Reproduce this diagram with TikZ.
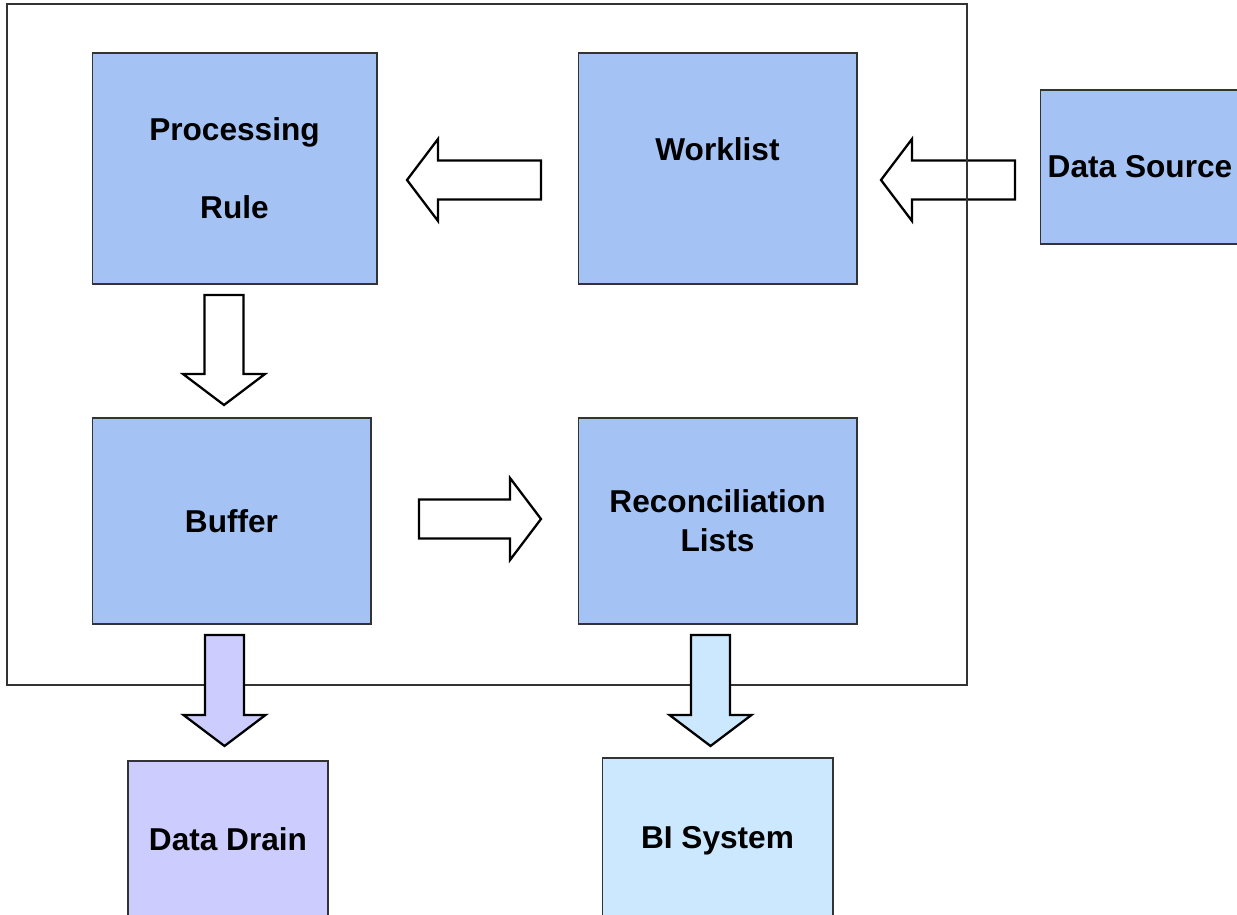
\documentclass[tikz,border=0pt]{standalone}
\usepackage{fontspec}
\setmainfont{Liberation Sans}
\usetikzlibrary{positioning}
\definecolor{boxblue}{HTML}{A4C2F4}
\definecolor{drainpurple}{HTML}{CCCCFF}
\definecolor{bicyan}{HTML}{CCE8FF}
\definecolor{framegray}{HTML}{333333}

\tikzset{
  stage/.style={draw=framegray, line width=0.6pt, fill=boxblue, align=center, inner sep=0pt,
    font=\bfseries\fontsize{18}{22}\selectfont},
  pics/blockarrow/.style n args={2}{code={
    \draw[line width=1.3pt, fill=#2, line join=miter]
      (0,19.5) -- ({#1-31},19.5) -- ({#1-31},41) -- (#1,0) -- ({#1-31},-41) -- ({#1-31},-19.5) -- (0,-19.5) -- cycle;
  }}
}

\begin{document}
\begin{tikzpicture}[x=0.02cm, y=0.02cm]
  \clip (0,0) rectangle (1237,-915);
  \fill[white] (0,0) rectangle (1237,-915);

  % input arrow runs under the frame
  \pic[rotate=180] (feed) at (1015,-180) {blockarrow={134}{white}};
  \draw[framegray, line width=0.6pt] (7,-4) rectangle (967,-685);

  \node[stage, minimum width=5.7cm, minimum height=4.62cm] (rule) at (234.5,-168.5) {\raisebox{-2.2pt}{Processing}\\[0.78cm]\raisebox{-2.2pt}{Rule}};
  \node[stage, minimum width=5.58cm, minimum height=4.62cm] (worklist) at (717.5,-168.5) {Worklist\\\mbox{}};
  \node[stage, minimum width=4cm, minimum height=3.08cm] (source) at (1140,-167) {Data Source};
  \node[stage, minimum width=5.58cm, minimum height=4.12cm] (buffer) at (231.5,-521) {Buffer};
  \node[stage, minimum width=5.58cm, minimum height=4.12cm] (recon) at (717.5,-521) {Reconciliation\\Lists};
  \node[stage, fill=drainpurple, minimum width=4cm, minimum height=3.12cm] (drain) at (228,-839) {Data Drain};
  \node[stage, fill=bicyan, minimum width=4.62cm, minimum height=3.32cm] (bi) at (717.5,-841) {BI System};

  \pic[rotate=180] (pull) at (541,-180) {blockarrow={134}{white}};
  \pic[rotate=-90] (stash) at (224,-295) {blockarrow={110}{white}};
  \pic (match) at (419,-519) {blockarrow={122}{white}};
  \pic[rotate=-90] (flush) at (224.5,-635) {blockarrow={111}{drainpurple}};
  \pic[rotate=-90] (report) at (710.5,-635) {blockarrow={111}{bicyan}};
\end{tikzpicture}
\end{document}
